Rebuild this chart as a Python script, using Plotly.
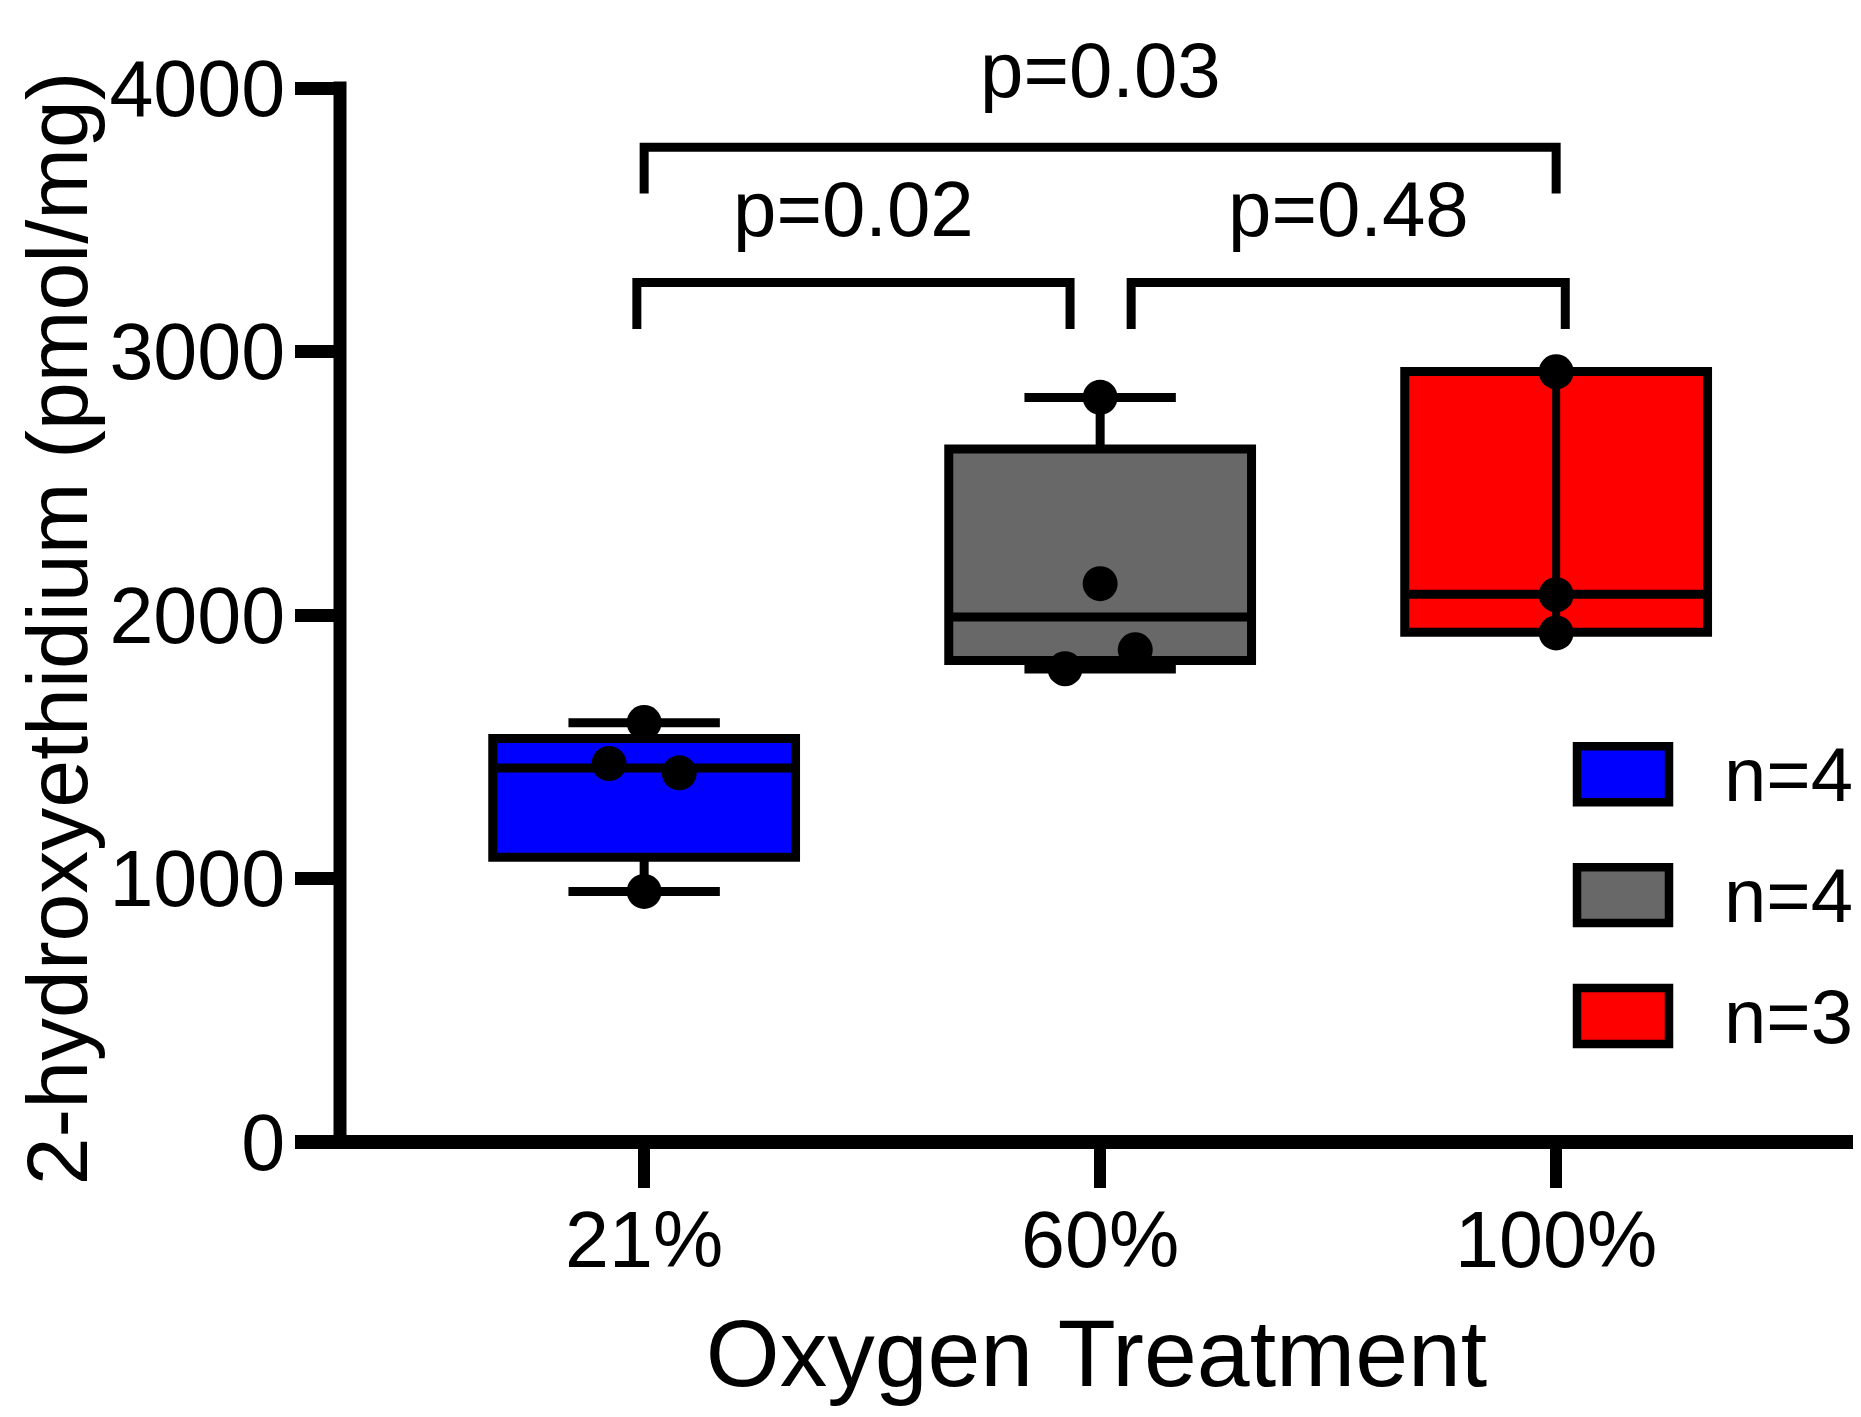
import plotly.graph_objects as go

# ---------------- data ----------------
categories = ["21%", "60%", "100%"]
fill_colors = ["#0000FF", "#686868", "#FF0000"]
legend_labels = ["n=4", "n=4", "n=3"]

points_21 = [1592, 1436, 1401, 951]
points_60 = [2826, 2119, 1868, 1796]
points_100 = [2923, 2077, 1932]
group_points = [points_21, points_60, points_100]

box_q1 = [1081, 1827, 1935]
box_median = [1419, 1992, 2079]
box_q3 = [1531, 2630, 2924]
box_lower = [951, 1795, 1935]
box_upper = [1591, 2825, 2924]

y_ticks = [0, 1000, 2000, 3000, 4000]

p_labels = ["p=0.02", "p=0.48", "p=0.03"]

x_title = "Oxygen Treatment"
y_title = "2-hydroxyethidium (pmol/mg)"

# ---------------- style / layout helpers ----------------
point_offsets = [[0, -0.077, 0.077, 0], [0, 0, 0.077, -0.077], [0, 0, 0]]
bracket_specs = [(-0.016, 0.934, 3262, 3085), (1.068, 2.02, 3262, 3085), (0.0, 2.0, 3775, 3600)]
label_px = [209, 209, 69.5]   # vertical centre (page px) of the p-value labels

FONT = "Liberation Sans, Arial, sans-serif"
OFF = 8                      # page body margin
W, H = 1861 - 2 * OFF, 1417 - 2 * OFF
ML, MR, MT = 340 - OFF, 0, 87.5 - OFF
PLOT_BOTTOM = 1142 - OFF
MB = H - PLOT_BOTTOM
PW = W - ML - MR
PH = H - MT - MB


def px_x(p):
    return (p - OFF - ML) / PW


def px_y(p):
    return (PLOT_BOTTOM - (p - OFF)) / PH


fig = go.Figure()

for i, cat in enumerate(categories):
    fig.add_trace(go.Box(
        x=[i], q1=[box_q1[i]], median=[box_median[i]], q3=[box_q3[i]],
        lowerfence=[box_lower[i]], upperfence=[box_upper[i]],
        width=0.664, whiskerwidth=0.5,
        fillcolor=fill_colors[i], line=dict(color="black", width=9),
        boxpoints=False, showlegend=False, name=cat, hoverinfo="skip",
    ))

# whisker line drawn through the 100% box (min to max)
fig.add_trace(go.Scatter(
    x=[2, 2], y=[min(points_100), max(points_100)], mode="lines",
    line=dict(color="black", width=8), showlegend=False, hoverinfo="skip",
))

for i, pts in enumerate(group_points):
    fig.add_trace(go.Scatter(
        x=[i + o for o in point_offsets[i]], y=pts, mode="markers",
        marker=dict(color="black", size=35, line=dict(width=0)),
        showlegend=False, name=categories[i],
    ))

shapes = []
# axis lines
shapes.append(dict(type="line", xref="paper", yref="paper", x0=0, x1=0,
                   y0=0, y1=px_y(81), line=dict(color="black", width=13)))
shapes.append(dict(type="line", xref="paper", yref="paper", x0=px_x(295), x1=1.0,
                   y0=0, y1=0, line=dict(color="black", width=14)))

annotations = []
# significance brackets
for (x0, x1, top, leg), lab, ly in zip(bracket_specs, p_labels, label_px):
    shapes.append(dict(type="path", xref="x", yref="y",
                       path=f"M {x0},{leg} L {x0},{top} L {x1},{top} L {x1},{leg}",
                       line=dict(color="black", width=9)))
    annotations.append(dict(x=(x0 + x1) / 2, y=px_y(ly), xref="x", yref="paper", text=lab,
                            showarrow=False, xanchor="center", yanchor="middle",
                            font=dict(family=FONT, size=78, color="black")))

# manual legend
for i, (lab, col) in enumerate(zip(legend_labels, fill_colors)):
    cy = 774 + 121 * i
    shapes.append(dict(type="rect", xref="paper", yref="paper",
                       x0=px_x(1577), x1=px_x(1669), y0=px_y(cy + 28), y1=px_y(cy - 28),
                       fillcolor=col, line=dict(color="black", width=8.5)))
    annotations.append(dict(x=px_x(1722), y=px_y(cy), xref="paper", yref="paper",
                            text=lab, showarrow=False, xanchor="left", yanchor="middle",
                            font=dict(family=FONT, size=76, color="black")))

# y axis title (rotated)
annotations.append(dict(x=px_x(57), y=px_y(628), xref="paper", yref="paper",
                        text=y_title, textangle=-90, showarrow=False,
                        xanchor="center", yanchor="middle",
                        font=dict(family=FONT, size=86, color="black")))

fig.update_layout(
    width=W, height=H,
    margin=dict(l=ML, r=MR, t=MT, b=MB, autoexpand=False),
    paper_bgcolor="white", plot_bgcolor="white",
    showlegend=False,
    shapes=shapes, annotations=annotations,
    font=dict(family=FONT, color="black"),
)
fig.update_xaxes(
    range=[-0.667, 2.651], tickvals=[0, 1, 2], ticktext=categories,
    ticks="outside", ticklen=45, tickwidth=12, tickcolor="black",
    showline=False, showgrid=False, zeroline=False,
    tickfont=dict(family=FONT, size=79, color="black"), ticklabelstandoff=-16,
    title=dict(text=x_title, font=dict(family=FONT, size=95, color="black"), standoff=36),
)
fig.update_yaxes(
    range=[0, 4000], tickvals=y_ticks, ticktext=[str(v) for v in y_ticks],
    ticks="outside", ticklen=44, tickwidth=13, tickcolor="black",
    showline=False, showgrid=False, zeroline=False,
    tickfont=dict(family=FONT, size=79, color="black"), ticklabelstandoff=-6,
)

fig.write_html("out.html")
